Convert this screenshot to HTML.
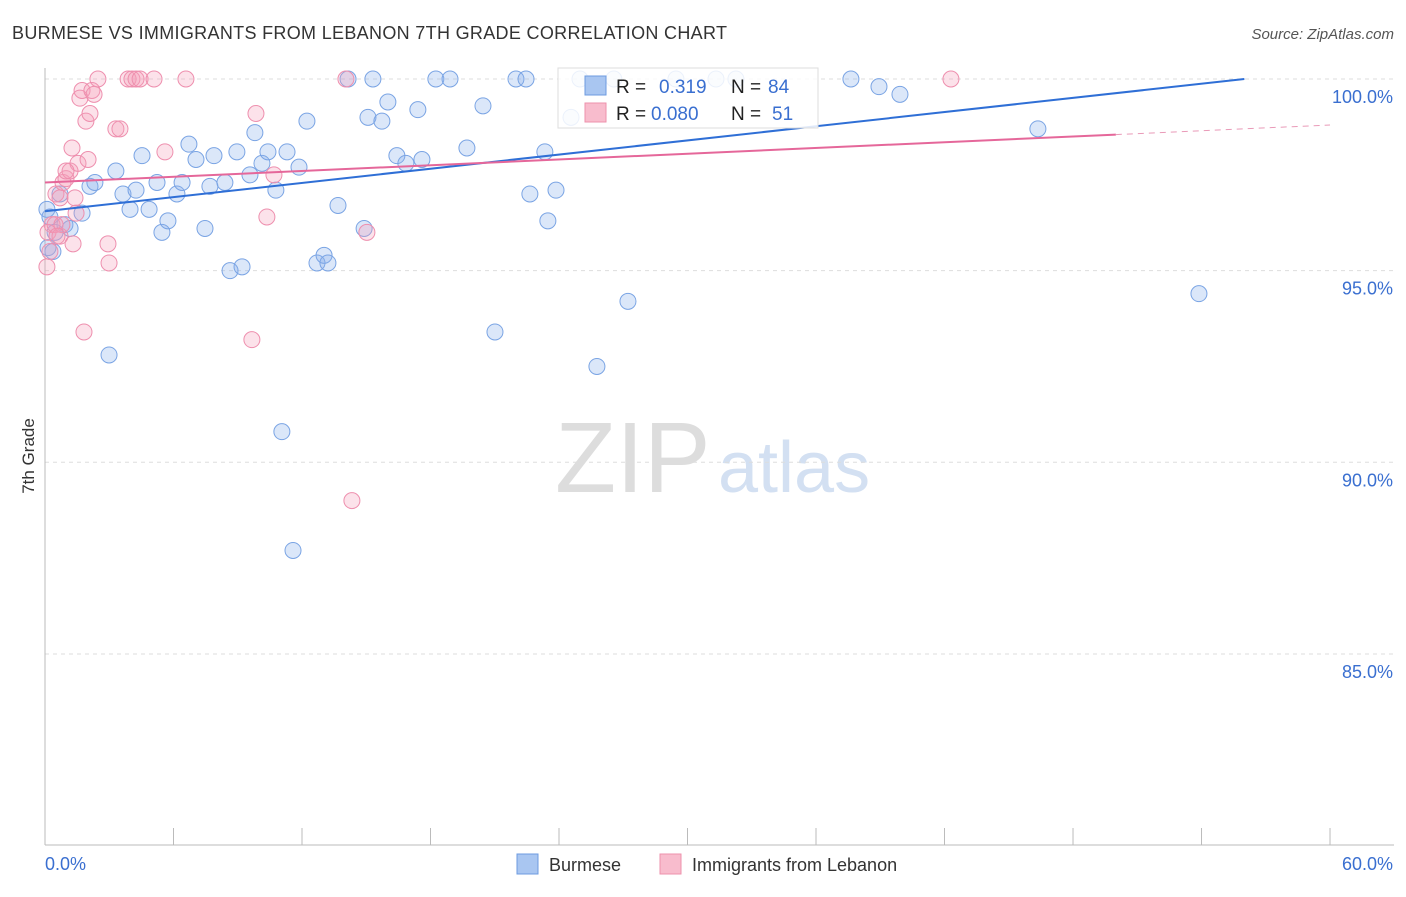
<!DOCTYPE html>
<html><head><meta charset="utf-8"><style>
body{margin:0;background:#fff;font-family:"Liberation Sans",sans-serif;}
svg text{font-family:"Liberation Sans",sans-serif;}
</style></head><body>
<svg id="chart" width="1406" height="892">
<text x="12" y="39" font-size="18" fill="#333" textLength="715">BURMESE VS IMMIGRANTS FROM LEBANON 7TH GRADE CORRELATION CHART</text>
<text x="1394" y="39" font-size="15" fill="#555" font-style="italic" text-anchor="end">Source: ZipAtlas.com</text>
<text x="34" y="456" font-size="17" fill="#333" transform="rotate(-90 34 456)" text-anchor="middle">7th Grade</text>
<text x="555" y="492" font-size="100" fill="#ddd" font-family="Liberation Serif">ZIP</text>
<text x="718" y="492" font-size="72" fill="#d3e0f2">atlas</text>
<g id="grid"></g><g id="axes"></g><g id="pts"></g><g id="lines"></g>
<g>
<rect x="558" y="68" width="260" height="60" fill="rgba(255,255,255,0.85)" stroke="#ddd"/>
<rect x="585" y="76" width="21" height="19" fill="#a9c6f1" stroke="#6d9be0"/>
<rect x="585" y="103" width="21" height="19" fill="#f8bccd" stroke="#ee92ac"/>
<text x="616" y="93" font-size="19" fill="#222">R = </text><text x="659" y="93" font-size="19" fill="#3a6fd0">0.319</text>
<text x="731" y="93" font-size="19" fill="#222">N = </text><text x="768" y="93" font-size="19" fill="#3a6fd0">84</text>
<text x="616" y="120" font-size="19" fill="#222">R = </text><text x="651" y="120" font-size="19" fill="#3a6fd0">0.080</text>
<text x="731" y="120" font-size="19" fill="#222">N = </text><text x="772" y="120" font-size="19" fill="#3a6fd0">51</text>
</g>
<g>
<rect x="517" y="854" width="21" height="20" fill="#a9c6f1" stroke="#6d9be0"/>
<text x="549" y="871" font-size="18" fill="#333">Burmese</text>
<rect x="660" y="854" width="21" height="20" fill="#f8bccd" stroke="#ee92ac"/>
<text x="692" y="871" font-size="18" fill="#333">Immigrants from Lebanon</text>
</g>
</svg>
<script>
const yTicks=[100,95,90,85];
const yTickLabels=["100.0%","95.0%","90.0%","85.0%"];
const xTickCount=10;
const burmese=[[0.09,96.6],[0.23,96.4],[0.47,96.0],[0.7,97.0],[0.93,96.2],[1.17,96.1],[1.73,96.5],[2.1,97.2],[2.33,97.3],[2.99,92.8],[3.31,97.6],[3.64,97.0],[3.97,96.6],[4.25,97.1],[4.53,98.0],[4.86,96.6],[5.23,97.3],[5.46,96.0],[5.74,96.3],[6.16,97.0],[6.4,97.3],[6.72,98.3],[7.05,97.9],[7.47,96.1],[7.7,97.2],[7.89,98.0],[8.4,97.3],[8.64,95.0],[8.96,98.1],[9.2,95.1],[9.57,97.5],[9.8,98.6],[10.13,97.8],[10.41,98.1],[10.78,97.1],[11.06,90.8],[11.3,98.1],[11.58,87.7],[11.86,97.7],[12.23,98.9],[12.7,95.2],[13.03,95.4],[13.21,95.2],[13.68,96.7],[14.15,100],[14.9,96.1],[15.08,99.0],[15.31,100],[15.73,98.9],[16.01,99.4],[16.43,98.0],[16.85,97.8],[17.41,99.2],[17.6,97.9],[18.25,100],[18.91,100],[19.7,98.2],[20.45,99.3],[21.01,93.4],[21.99,100],[22.46,100],[22.64,97.0],[23.34,98.1],[23.48,96.3],[23.86,97.1],[24.56,99.0],[24.98,100],[25.77,92.5],[26.56,100],[27.22,94.2],[29.46,100],[31.33,100],[32.26,100],[37.63,100],[38.94,99.8],[39.92,99.6],[46.36,98.7],[53.88,94.4],[0.14,95.6],[0.37,95.5]];
const lebanon=[[0.09,95.1],[0.23,95.5],[0.33,96.2],[0.51,97.0],[0.7,96.9],[0.84,97.3],[0.98,97.4],[1.17,97.6],[1.26,98.2],[1.4,96.9],[1.45,96.5],[1.54,97.8],[1.63,99.5],[1.73,99.7],[1.82,93.4],[1.91,98.9],[2.01,97.9],[2.1,99.1],[2.19,99.7],[2.29,99.6],[2.47,100],[2.94,95.7],[2.99,95.2],[3.31,98.7],[3.5,98.7],[3.88,100],[4.06,100],[4.25,100],[4.44,100],[5.09,100],[5.6,98.1],[6.58,100],[9.66,93.2],[9.85,99.1],[10.36,96.4],[10.69,97.5],[14.05,100],[14.33,89.0],[15.03,96.0],[42.3,100],[0.14,96.0],[0.47,96.2],[0.7,95.9],[1.31,95.7],[0.79,96.2],[0.98,97.6],[0.56,95.9]];
const blueLine=[[0,96.55],[56,100]];
const pinkLine=[[0,97.3],[50,98.55]];
const pinkDash=[[50,98.55],[60,98.8]];
const X=v=>45+v*21.417, Y=v=>79+(100-v)*38.33;
const NS="http://www.w3.org/2000/svg";
function mk(tag,attrs,parent){const e=document.createElementNS(NS,tag);for(const k in attrs)e.setAttribute(k,attrs[k]);document.getElementById(parent).appendChild(e);return e;}
yTicks.forEach((t,i)=>{
 const l=mk('line',{x1:45,x2:1394,y1:Y(t),y2:Y(t),stroke:'#ddd','stroke-dasharray':'4,4'},'grid');
 
 
 const tx=mk('text',{x:1393,y:Y(t)+24,'font-size':18,fill:'#3a6fd0','text-anchor':'end'},'grid');
 tx.textContent=yTickLabels[i];
 
 
});
const ax=mk('line',{x1:45,x2:45,y1:68,y2:845,stroke:'#bbb'},'axes');


const bx=mk('line',{x1:45,x2:1394,y1:845,y2:845,stroke:'#bbb'},'axes');


for(let i=0;i<=xTickCount;i++){const xv=i*6;const t=mk('line',{x1:X(xv),x2:X(xv),y1:828,y2:845,stroke:'#bbb'},'axes');
 
 }
const x0=mk('text',{x:45,y:870,'font-size':18,fill:'#3a6fd0'},'axes');x0.textContent='0.0%';


const x1=mk('text',{x:1393,y:870,'font-size':18,fill:'#3a6fd0','text-anchor':'end'},'axes');x1.textContent='60.0%';


burmese.forEach(p=>{const c=mk('circle',{cx:X(p[0]),cy:Y(p[1]),r:8,fill:'rgba(137,176,235,0.3)',stroke:'#7aa4e4','stroke-width':1},'pts');
 
 });
lebanon.forEach(p=>{const c=mk('circle',{cx:X(p[0]),cy:Y(p[1]),r:8,fill:'rgba(244,160,186,0.3)',stroke:'#ee8fae','stroke-width':1},'pts');
 
 });
const bl=mk('line',{x1:X(blueLine[0][0]),y1:Y(blueLine[0][1]),x2:X(blueLine[1][0]),y2:Y(blueLine[1][1]),stroke:'#2f6fd6','stroke-width':2},'lines');


const pl=mk('line',{x1:X(pinkLine[0][0]),y1:Y(pinkLine[0][1]),x2:X(pinkLine[1][0]),y2:Y(pinkLine[1][1]),stroke:'#e5679a','stroke-width':2},'lines');


const pd=mk('line',{x1:X(pinkDash[0][0]),y1:Y(pinkDash[0][1]),x2:X(pinkDash[1][0]),y2:Y(pinkDash[1][1]),stroke:'#e99ab8','stroke-width':1,'stroke-dasharray':'6,5'},'lines');


</script>
</body></html>
